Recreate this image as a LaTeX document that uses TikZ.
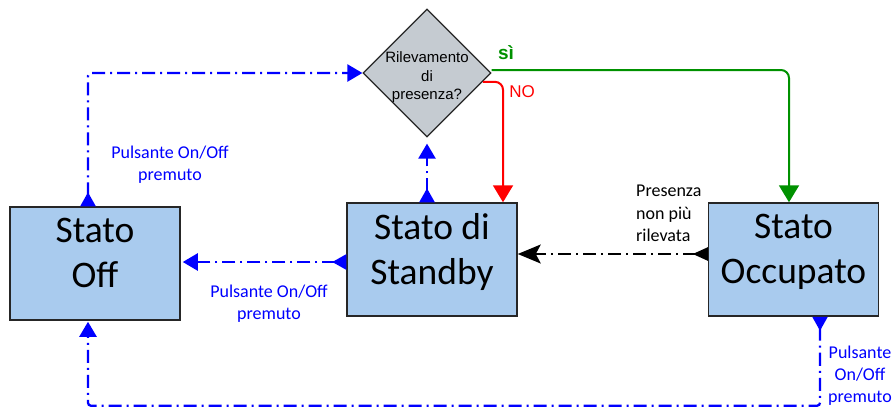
\documentclass[tikz,border=0pt]{standalone}
\usepackage{fontspec}
\setmainfont{Carlito}
\newfontfamily\arialfont{Liberation Sans}
\usetikzlibrary{arrows.meta, positioning, shapes.geometric, calc}
\definecolor{BoxBlue}{HTML}{A9CBEE}
\definecolor{DecGray}{HTML}{C5CBD1}
\definecolor{PulseBlue}{HTML}{0000FF}
\definecolor{YesGreen}{HTML}{009100}
\definecolor{NoRed}{HTML}{FF0000}

\begin{document}
\begin{tikzpicture}[
    x=1pt, y=-1pt,
    state/.style={rectangle, draw=black!85, fill=BoxBlue, line width=1.5pt, minimum width=170pt, minimum height=113pt, inner sep=0pt, align=center, font=\fontsize{37.5}{45}\selectfont, text depth=21pt},
    decision/.style={diamond, draw=black!85, fill=DecGray, line width=1.2pt, minimum width=128pt, minimum height=128pt, inner sep=0pt},
    pulse/.style={{Triangle[reversed, length=14pt, width=15pt]}-{Triangle[length=15pt, width=17pt]}, draw=PulseBlue, line width=2.3pt, dash pattern=on 13pt off 5pt on 2pt off 5pt, rounded corners=3pt},
    lost/.style={{Triangle[reversed, length=15pt, width=13pt]}-{Stealth[length=23pt, width=19pt, inset=5pt]}, draw=black, line width=2pt, dash pattern=on 13pt off 5pt on 2pt off 5pt},
    choice/.style={-{Triangle[length=17pt, width=20pt]}, line width=2pt, rounded corners=8pt},
    note/.style={text=PulseBlue, align=center, inner sep=0pt, font=\fontsize{18}{22}\selectfont}
]
\useasboundingbox (0,0) rectangle (893,408);

% states and the presence check
\node[state] (OFF) at (95,263.5) {Stato\\Off};
\node[state] (STANDBY) at (432,259.5) {Stato di\\Standby};
\node[state] (OCC) at (793.5,259.5) {Stato\\Occupato};
\node[decision] (DEC) at (427,73) {};
\node[font=\arialfont\fontsize{15}{18.5}\selectfont, align=center, inner sep=0pt] (DECtext) at (427,77.5) {Rilevamento\\di\\presenza?};

% button transitions
\draw[pulse] ([xshift=-7pt]OFF.north) |- (DEC.west);
\draw[pulse, shorten >=2pt] ([yshift=-2.5pt]STANDBY.west) -- ([yshift=-2.5pt]STANDBY.west -| OFF.east);
\draw[pulse, shorten >=6pt] (STANDBY.north -| DEC.south) -- (DEC.south);
\draw[pulse, shorten >=1pt] ([xshift=26.5pt]OCC.south) -- ++(0,89) -| ([xshift=-7pt]OFF.south);

% presence lost
\draw[lost] ([yshift=5.5pt]OCC.west) -- ([yshift=5.5pt]OCC.west -| STANDBY.east);

% outcome of the check
\draw[choice, draw=YesGreen, YesGreen] ([yshift=3pt]DEC.east) -| ([xshift=-4.5pt]OCC.north);
\draw[choice, draw=NoRed, NoRed] (DEC.-9) -| ([xshift=71pt]STANDBY.north);
\node[text=YesGreen, font=\arialfont\bfseries\fontsize{19}{22}\selectfont, inner sep=0pt] (yes) at (506,53) {sì};
\node[text=NoRed, font=\arialfont\fontsize{17}{20}\selectfont, inner sep=0pt] (no) at (522,92) {NO};

% labels
\node[note] (pulseA) at (170,164.75) {Pulsante On/Off\\premuto};
\node[note] (pulseB) at (269,303.75) {Pulsante On/Off\\premuto};
\node[note] (pulseC) at (860,376) {Pulsante\\On/Off\\premuto};
\node[align=left, anchor=west, inner sep=0pt, font=\fontsize{18}{22.5}\selectfont] (lostnote) at (636,213.5) {Presenza\\non più\\rilevata};
\end{tikzpicture}
\end{document}
